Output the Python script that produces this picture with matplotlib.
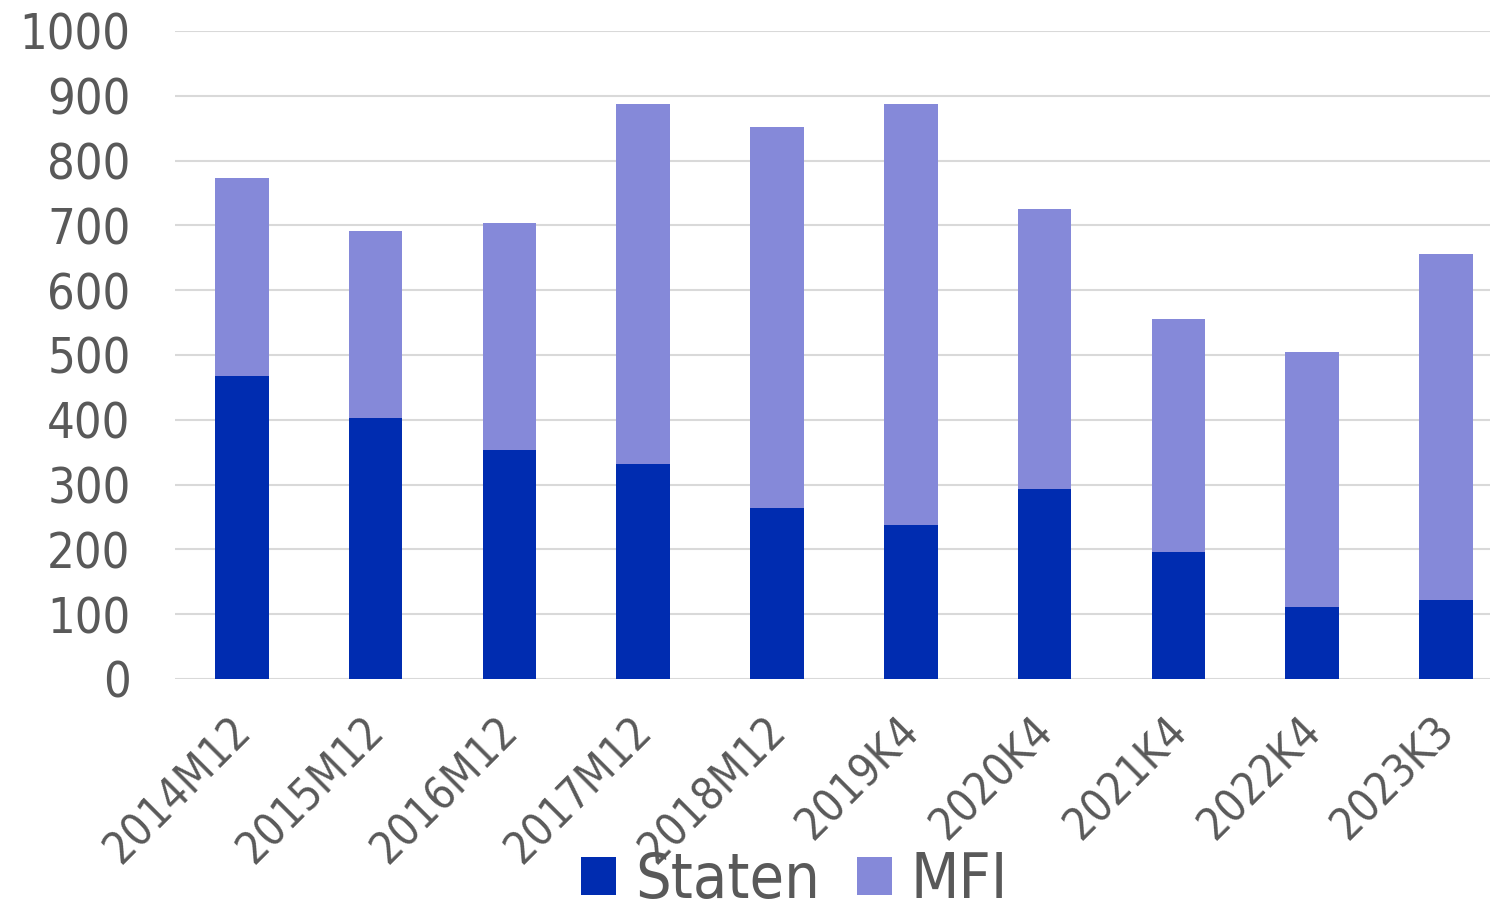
import matplotlib.pyplot as plt
import matplotlib.transforms as mtransforms
import numpy as np

# categories and values
periods = ['2014M12', '2015M12', '2016M12', '2017M12', '2018M12',
           '2019K4', '2020K4', '2021K4', '2022K4', '2023K3']
staten = [468, 403, 353, 332, 264, 238, 293, 196, 111, 122]
totals = [773, 691, 704, 887, 852, 887, 725, 556, 505, 656]
mfi = [t - s for t, s in zip(totals, staten)]

plt.rcParams['font.family'] = ['DejaVu Sans']
plt.rcParams['font.stretch'] = 'condensed'
text_color = '#595959'

fig = plt.figure(figsize=(14.91, 9.16), dpi=100)
ax = fig.add_axes([175 / 1491, 1 - 679 / 916, (1490 - 175) / 1491, (679 - 31) / 916])

x = np.arange(len(periods))
ax.bar(x, staten, width=0.4, color='#002CB0', label='Staten', zorder=3)
ax.bar(x, mfi, width=0.4, bottom=staten, color='#8589D9', label='MFI', zorder=3)

ax.set_ylim(0, 1000)
ax.set_xlim(-0.5, 9.33)
ax.set_yticks(range(0, 1001, 100))
ax.yaxis.grid(True, color='#d9d9d9', linewidth=1.5, zorder=0)
ax.tick_params(axis='y', length=0, pad=32, labelsize=35, labelcolor=text_color)
ax.tick_params(axis='x', length=0, pad=22, labelsize=32, labelcolor=text_color)
ax.set_xticks(x)
ax.set_xticklabels(periods, rotation=45, ha='right')
shift = mtransforms.ScaledTranslation(17 / 100, 0, fig.dpi_scale_trans)
for lbl in ax.get_xticklabels():
    lbl.set_transform(lbl.get_transform() + shift)
for s in ax.spines.values():
    s.set_visible(False)

fig.legend(loc='lower center', bbox_to_anchor=(0.533, -0.056), ncol=2, frameon=False,
           fontsize=45, labelcolor=text_color, handlelength=0.56, handleheight=0.56,
           handletextpad=0.3, columnspacing=0.6)

fig.savefig('out.png', dpi=100)
